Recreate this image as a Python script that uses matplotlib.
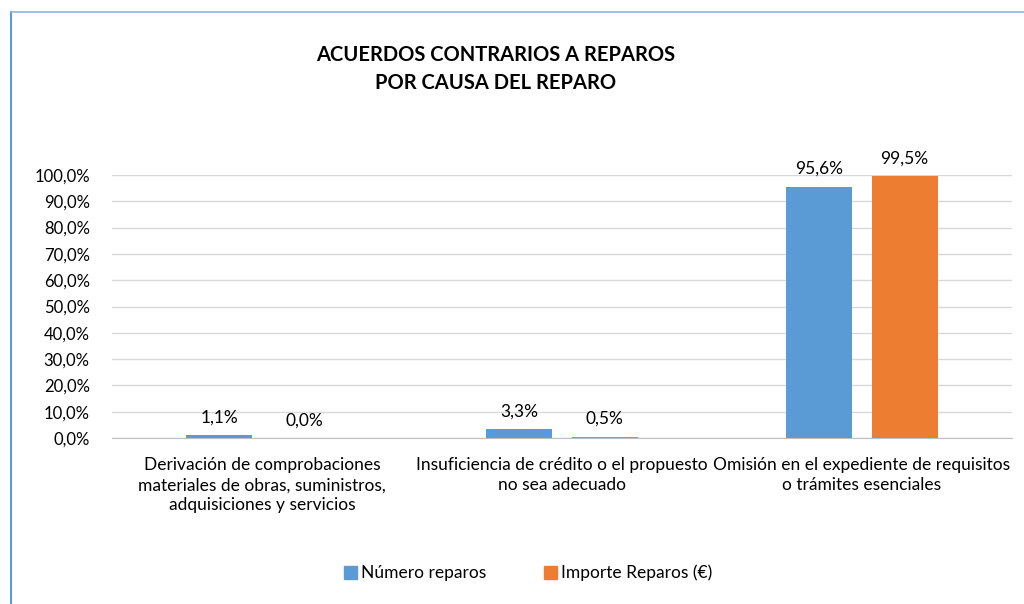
import matplotlib.pyplot as plt
import numpy as np
from matplotlib.lines import Line2D
from matplotlib.ticker import FuncFormatter

plt.rcParams['font.family'] = ['Lato', 'DejaVu Sans']

causas = [
    "Derivación de comprobaciones\nmateriales de obras, suministros,\nadquisiciones y servicios",
    "Insuficiencia de crédito o el propuesto\nno sea adecuado",
    "Omisión en el expediente de requisitos\no trámites esenciales",
]
numero_reparos = [1.1, 3.3, 95.6]
importe_reparos = [0.0, 0.5, 99.5]
series = ["Número reparos", "Importe Reparos (€)"]
colores = ["#5b9bd5", "#ed7d31"]


def pct(v):
    return f"{v:.1f}%".replace(".", ",")


fig = plt.figure(figsize=(10.24, 6.04), dpi=100)
ax = fig.add_axes([112 / 1024, 1 - 438 / 604, 900 / 1024, 263 / 604])

x = np.arange(len(causas))
w = 0.22
off = 0.142
r1 = ax.bar(x - off, numero_reparos, w, color=colores[0], label=series[0], zorder=3)
r2 = ax.bar(x + off, importe_reparos, w, color=colores[1], label=series[1], zorder=3)
ax.bar_label(r1, labels=[pct(v) for v in numero_reparos], padding=7, fontsize=12.5)
ax.bar_label(r2, labels=[pct(v) for v in importe_reparos], padding=7, fontsize=12.5)

ax.set_xlim(-0.5, 2.5)
ax.set_ylim(0, 100)
ax.set_yticks(np.arange(0, 101, 10))
ax.yaxis.set_major_formatter(FuncFormatter(lambda v, p: pct(v)))
ax.set_xticks(x)
ax.set_xticklabels(causas, fontsize=12.5, linespacing=1.3)
ax.tick_params(axis='y', labelsize=12, length=0, pad=16)
ax.tick_params(axis='x', length=0, pad=14)
ax.grid(axis='y', color='#d9d9d9', linewidth=1, zorder=0)
ax.set_axisbelow(True)
for s in ['left', 'right', 'top']:
    ax.spines[s].set_visible(False)
ax.spines['bottom'].set_color('#bfbfbf')
ax.patch.set_alpha(0)
for lbl in ax.texts:
    lbl.set_clip_on(False)

fig.text(496 / 1024, 1 - 69 / 604, "ACUERDOS CONTRARIOS A REPAROS\nPOR CAUSA DEL REPARO",
         ha='center', va='center', fontsize=14.5, fontweight='bold', linespacing=1.5)

fig.legend(handles=[plt.Rectangle((0, 0), 1, 1, color=c) for c in colores], labels=series,
           loc='center', bbox_to_anchor=(528 / 1024, 1 - 573 / 604), ncol=2, frameon=False,
           fontsize=12.5, handlelength=0.75, handleheight=0.75, handletextpad=0.25, columnspacing=3.3)

# blue frame of the original chart box
fig.add_artist(Line2D([10.5 / 1024, 10.5 / 1024], [0, 1 - 11.5 / 604], color='#5b9bd5', lw=1.5))
fig.add_artist(Line2D([10.5 / 1024, 1], [1 - 11.5 / 604, 1 - 11.5 / 604], color='#8db3e2', lw=1.2))

fig.savefig("out.png", dpi=100)
